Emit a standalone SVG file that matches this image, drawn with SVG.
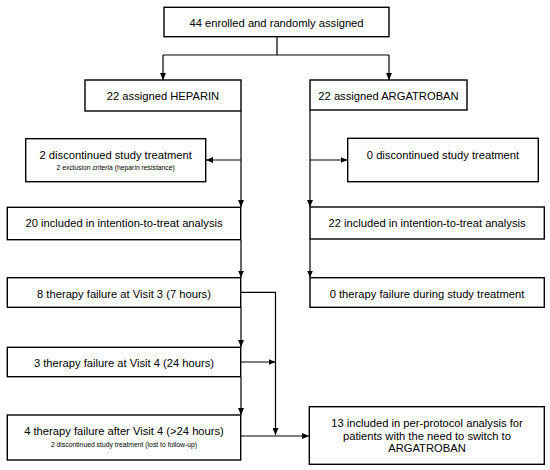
<svg xmlns="http://www.w3.org/2000/svg" width="550" height="470" viewBox="0 0 550 470">
<defs>
<marker id="arr" viewBox="0 0 10 10" refX="10" refY="5" markerWidth="7" markerHeight="6" markerUnits="userSpaceOnUse" orient="auto" preserveAspectRatio="none">
<path d="M0,0 L10,5 L0,10 z" fill="#000"/>
</marker>
<style>
.box{fill:#fff;stroke:#000;stroke-width:1.4}
.t{font-family:"Liberation Sans",Arial,sans-serif;font-size:11.2px;fill:#000;text-anchor:middle}
.s{font-family:"Liberation Sans",Arial,sans-serif;font-size:6.8px;fill:#000;text-anchor:middle}
.c{fill:none;stroke:#000;stroke-width:1.2}
.a{marker-end:url(#arr)}
</style>
</defs>
<rect width="550" height="470" fill="#fff"/>
<g id="connectors">
<path class="c" d="M277,37 V55 M163,55 H389"/>
<path class="c a" d="M163,55 V80"/>
<path class="c a" d="M389,55 V80"/>
<path class="c a" d="M241,111 V207"/>
<path class="c a" d="M241,160 H206"/>
<path class="c a" d="M241,240 V277.5"/>
<path class="c a" d="M241,307 V347"/>
<path class="c a" d="M241,377 V415"/>
<path class="c a" d="M241,292.3 H275.5 V435"/>
<path class="c a" d="M241,362 H275.5"/>
<path class="c a" d="M241,436 H309"/>
<path class="c a" d="M310,110 V207"/>
<path class="c a" d="M310,160 H347.5"/>
<path class="c a" d="M310,239 V277.5"/>
</g>
<g id="enrolled">
<rect class="box" x="164" y="7.3" width="225" height="29.4"/>
<text class="t" x="276.5" y="27">44 enrolled and randomly assigned</text>
</g>
<g id="heparin">
<rect class="box" x="85" y="80" width="156" height="31"/>
<text class="t" x="163" y="100">22 assigned HEPARIN</text>
</g>
<g id="argatroban">
<rect class="box" x="310" y="80" width="157" height="30"/>
<text class="t" x="388.5" y="100">22 assigned ARGATROBAN</text>
</g>
<g id="disc-heparin">
<rect class="box" x="25.7" y="138.7" width="180" height="43"/>
<text class="t" x="115.7" y="159">2 discontinued study treatment</text>
<text class="s" x="115.7" y="170.4">2 exclusion criteria (heparin resistance)</text>
</g>
<g id="disc-argatroban">
<rect class="box" x="347.7" y="138.3" width="190.6" height="43.4"/>
<text class="t" x="443" y="159">0 discontinued study treatment</text>
</g>
<g id="itt-heparin">
<rect class="box" x="7.3" y="207.3" width="233.4" height="32.4"/>
<text class="t" x="124" y="227">20 included in intention-to-treat analysis</text>
</g>
<g id="itt-argatroban">
<rect class="box" x="310" y="207" width="234.3" height="32"/>
<text class="t" x="427" y="227">22 included in intention-to-treat analysis</text>
</g>
<g id="visit3">
<rect class="box" x="7.3" y="277.7" width="233.4" height="29.6"/>
<text class="t" x="124" y="298.3">8 therapy failure at Visit 3 (7 hours)</text>
</g>
<g id="no-failure">
<rect class="box" x="310" y="277.7" width="234.3" height="29.6"/>
<text class="t" x="427" y="298.3">0 therapy failure during study treatment</text>
</g>
<g id="visit4">
<rect class="box" x="7.3" y="347.3" width="233.4" height="29.4"/>
<text class="t" x="124" y="366.7">3 therapy failure at Visit 4 (24 hours)</text>
</g>
<g id="after-visit4">
<rect class="box" x="7.3" y="415" width="233.4" height="45"/>
<text class="t" x="124" y="434.7">4 therapy failure after Visit 4 (&gt;24 hours)</text>
<text class="s" x="124" y="447.4">2 discontinued study treatment (lost to follow-up)</text>
</g>
<g id="per-protocol">
<rect class="box" x="309.3" y="406.7" width="235" height="57.6"/>
<text class="t" x="427" y="427.3">13 included in per-protocol analysis for</text>
<text class="t" x="427" y="440">patients with the need to switch to</text>
<text class="t" x="427" y="452.3">ARGATROBAN</text>
</g>
</svg>
